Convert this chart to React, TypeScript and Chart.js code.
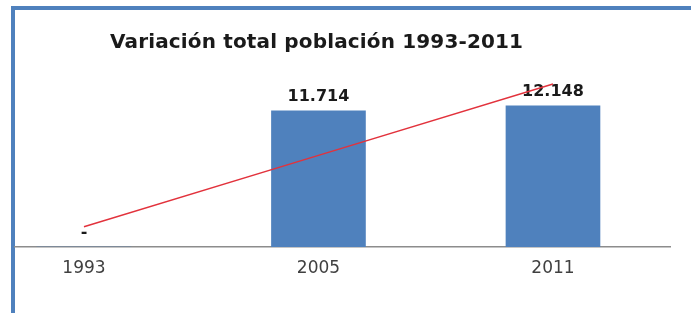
import React, { useEffect, useRef } from "react";
import { Chart, registerables } from "chart.js";

Chart.register(...registerables);

const TITLE = "Variación total población 1993-2011";
const CATEGORIES = ["1993", "2005", "2011"];
const POPULATION = [0, 11714, 12148];
const TREND = [1750, 7890, 14030];

const fmt = (v: number) =>
  v === 0 ? "-" : String(v).replace(/\B(?=(\d{3})+(?!\d))/g, ".");

const valueLabels = {
  id: "valueLabels",
  beforeDatasetsDraw(chart: any) {
    const meta = chart.getDatasetMeta(1);
    const ctx = chart.ctx;
    ctx.save();
    ctx.font = 'bold 16px "DejaVu Sans"';
    ctx.fillStyle = "#1a1a1a";
    ctx.textAlign = "center";
    ctx.textBaseline = "alphabetic";
    meta.data.forEach((bar: any, i: number) => {
      ctx.fillText(fmt(POPULATION[i]), bar.x, bar.y - 10);
    });
    ctx.restore();
  },
};

export default function App() {
  const ref = useRef<HTMLCanvasElement>(null);
  useEffect(() => {
    if (!ref.current) return;
    const chart = new Chart(ref.current, {
      type: "bar",
      data: {
        datasets: [
          {
            type: "line",
            label: "Tendencia",
            data: TREND.map((y, i) => ({ x: i, y })),
            borderColor: "#E2323C",
            borderWidth: 1.5,
            pointRadius: 0,
            fill: false,
            tension: 0,
            order: 0,
          } as any,
          {
            type: "bar",
            label: "Población",
            data: POPULATION.map((y, i) => ({ x: i, y })),
            backgroundColor: "#4F81BD",
            borderWidth: 0,
            barThickness: 94,
            order: 1,
          } as any,
        ],
      },
      options: {
        animation: false,
        responsive: false,
        layout: { padding: { left: 15, right: 21, top: 70, bottom: 23.6 } },
        plugins: {
          legend: { display: false },
          tooltip: { enabled: false },
          title: { display: false },
        },
        scales: {
          x: {
            type: "linear",
            min: -0.294,
            max: 2.499,
            offset: false,
            grid: { display: false, drawTicks: false },
            border: { display: true, color: "#8c8c8c", width: 1.5 },
            ticks: {
              padding: 11,
              color: "#404040",
              font: { family: "DejaVu Sans", size: 17 },
              callback: (v: any) => CATEGORIES[v] ?? "",
            },
            afterBuildTicks: (s: any) => {
              s.ticks = CATEGORIES.map((_, i) => ({ value: i }));
            },
          } as any,
          y: { display: false, min: 0, max: 15238 },
        },
      },
      plugins: [valueLabels],
    });
    return () => chart.destroy();
  }, []);

  return (
    <div
      style={{
        position: "fixed",
        left: 0,
        top: 0,
        width: 691,
        height: 313,
        background: "#fff",
        overflow: "hidden",
      }}
    >
      <div
        style={{
          position: "absolute",
          left: 11,
          top: 6,
          width: 691,
          height: 320,
          borderLeft: "4px solid #4F81BD",
          borderTop: "4px solid #4F81BD",
        }}
      />
      <canvas
        ref={ref}
        width={691}
        height={313}
        style={{ position: "absolute", left: 0, top: 0, width: 691, height: 313 }}
      />
      <div
        style={{
          position: "absolute",
          left: 110,
          top: 31,
          font: 'bold 20px "DejaVu Sans"',
          lineHeight: "20px",
          letterSpacing: "0.15px",
          color: "#1a1a1a",
          whiteSpace: "nowrap",
        }}
      >
        {TITLE}
      </div>
    </div>
  );
}
